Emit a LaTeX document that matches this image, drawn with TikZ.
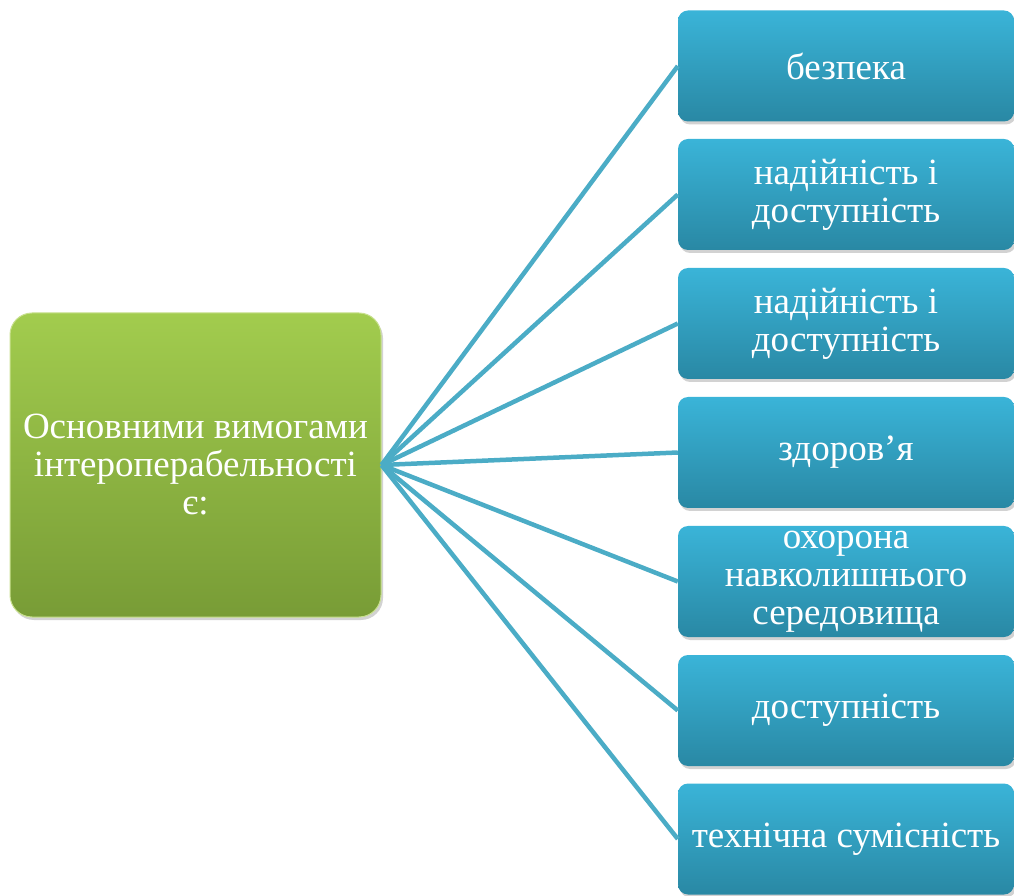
\documentclass[tikz,border=0pt]{standalone}
\usepackage{fontspec}
\setmainfont{Liberation Serif}
\usetikzlibrary{shadows}
\begin{document}
\begin{tikzpicture}[x=1pt,y=1pt,
  bluebox/.style={rectangle, rounded corners=10pt, minimum width=336pt, minimum height=111pt,
    top color=blue1, bottom color=blue2, draw=none, text=white, align=center,
    font=\fontsize{37}{38}\selectfont, inner sep=0pt,
    drop shadow={shadow xshift=2pt, shadow yshift=-3pt, fill=black!35, opacity=0.5}},
  greenbox/.style={rectangle, rounded corners=22pt, minimum width=371pt, minimum height=304pt,
    top color=green1, bottom color=green2, draw=green0, line width=1pt, text=white, align=center,
    font=\fontsize{37}{38}\selectfont, inner sep=0pt,
    drop shadow={shadow xshift=2pt, shadow yshift=-3pt, fill=black!35, opacity=0.5}},
  link/.style={draw=linkc, line width=4.5pt}]
\definecolor{blue1}{HTML}{3AB4D8}
\definecolor{blue2}{HTML}{2988A4}
\definecolor{green1}{HTML}{A2CC4E}
\definecolor{green2}{HTML}{789C36}
\definecolor{green0}{HTML}{C8E08E}
\definecolor{linkc}{HTML}{4BACC6}
\useasboundingbox (0,0) rectangle (1014,895);
\node[greenbox] (main) at (195.5,430) {Основними вимогами\\інтероперабельності\\є:};
\node[bluebox] (b1) at (846,829) {безпека};
\node[bluebox] (b2) at (846,700.5) {надійність і\\доступність};
\node[bluebox] (b3) at (846,571.5) {надійність і\\доступність};
\node[bluebox] (b4) at (846,442.5) {здоров’я};
\node[bluebox] (b5) at (846,313.5) {охорона\\навколишнього\\середовища};
\node[bluebox] (b6) at (846,184.5) {доступність};
\node[bluebox] (b7) at (846,56) {технічна сумісність};
\coordinate (hub) at (main.east);
\foreach \b in {b1,b2,b3,b4,b5,b6,b7}{
  \draw[link] (hub) -- (\b.west);
}
\end{tikzpicture}
\end{document}
